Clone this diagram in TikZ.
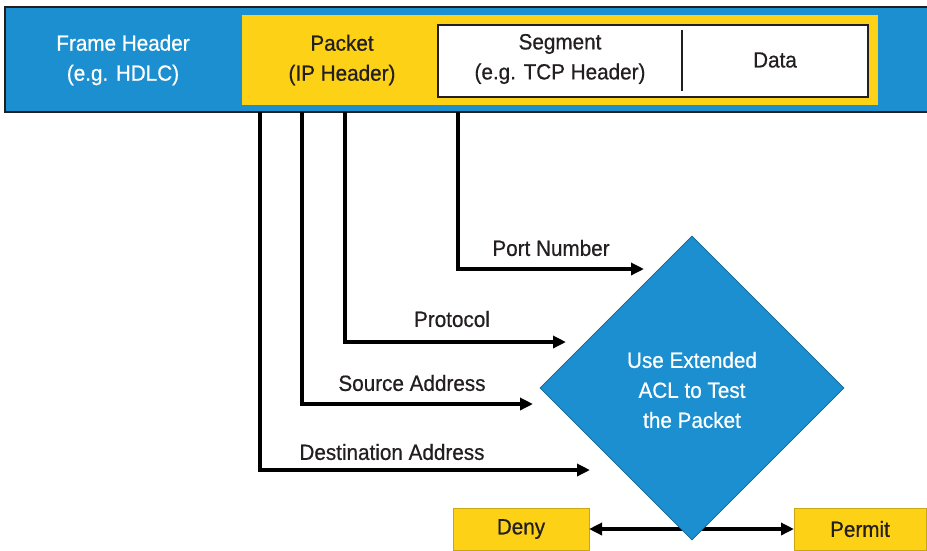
\documentclass[tikz,border=0pt]{standalone}
\usepackage{fontspec}
\setmainfont{Liberation Sans}[FakeStretch=0.94,FakeBold=0.6]
\usetikzlibrary{shapes.geometric,arrows.meta}
\definecolor{bandblue}{HTML}{1B8FD0}
\definecolor{pyellow}{HTML}{FCD116}
\definecolor{ink}{HTML}{231F20}
\begin{document}
\begin{tikzpicture}[x=1pt,y=-1pt,
  font=\fontsize{22}{30}\selectfont,
  box/.style={rectangle,inner sep=0pt,outer sep=0pt},
  txt/.style={align=center,text=ink,inner sep=0pt},
  wtxt/.style={align=center,text=white,inner sep=0pt},
  conn/.style={line width=3.5pt,draw=black,-{Triangle[length=13pt,width=12pt]}},
  conn2/.style={line width=3.5pt,draw=black,{Triangle[length=13pt,width=12pt]}-{Triangle[length=13pt,width=12pt]}},
  lbl/.style={text=ink,inner sep=0pt}]
\useasboundingbox (0,0) rectangle (927,550);
\clip (0,0) rectangle (927,550);
\fill[white] (0,0) rectangle (927,550);
% header band
\node[box,fill=bandblue,draw=ink,line width=1.5pt,minimum width=930pt,minimum height=105pt] (band) at (470,59.5) {};
\node[box,fill=pyellow,minimum width=636pt,minimum height=90pt] (packetbox) at (560,60) {};
\node[box,fill=white,draw=ink,line width=1.5pt,minimum width=430pt,minimum height=72pt] (segbox) at (653,61) {};
\draw[ink,line width=1.5pt] (682,30) -- (682,91);
\node[wtxt] (frametxt) at (123,60) {Frame Header\\(e.g. HDLC)};
\node[txt] (packettxt) at (342,60) {Packet\\(IP Header)};
\node[txt] (segtxt) at (560,59) {Segment\\(e.g. TCP Header)};
\node[txt] (datatxt) at (775,60) {Data};
% field taps
\coordinate (dstTop) at (260,112);
\coordinate (srcTop) at (302,112);
\coordinate (protoTop) at (345,112);
\coordinate (portTop) at (458,112);
\coordinate (dstEnd) at (590,470);
\coordinate (srcEnd) at (533,404);
\coordinate (protoEnd) at (566,342);
\coordinate (portEnd) at (644,269);
\draw[conn] (portTop) |- (portEnd);
\draw[conn] (protoTop) |- (protoEnd);
\draw[conn] (srcTop) |- (srcEnd);
\draw[conn] (dstTop) |- (dstEnd);
\node[lbl] (portlbl) at (551,248) {Port Number};
\node[lbl] (protolbl) at (452,319) {Protocol};
\node[lbl] (srclbl) at (412,383) {Source Address};
\node[lbl] (dstlbl) at (392,452) {Destination Address};
% outcomes
\node[box,fill=pyellow,draw=pyellow!80!black,line width=0.8pt,minimum width=136pt,minimum height=42pt] (deny) at (521,529) {};
\node[lbl] (denytxt) at (deny.center) {Deny};
\node[box,fill=pyellow,draw=pyellow!80!black,line width=0.8pt,minimum width=132pt,minimum height=42pt] (permit) at (860,529) {};
\node[lbl] (permittxt) at (permit.center) {Permit};
\draw[conn2] (deny.east) -- (permit.west);
% decision
\node[diamond,fill=bandblue,draw=bandblue!70!black,line width=0.8pt,inner sep=0pt,minimum width=304pt,minimum height=304pt] (acl) at (692,388) {};
\node[wtxt] (acltxt) at (692,390) {Use Extended\\ACL to Test\\the Packet};
\end{tikzpicture}
\end{document}
